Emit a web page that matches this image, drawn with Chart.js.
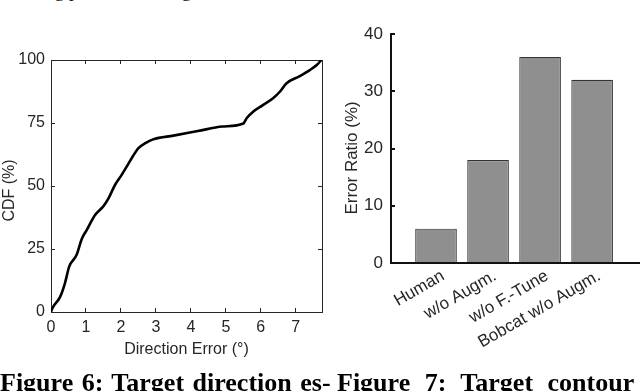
<!DOCTYPE html>
<html>
<head>
<meta charset="utf-8">
<script src="https://cdn.jsdelivr.net/npm/chart.js@4/dist/chart.umd.min.js"></script>
<style>
  html, body { margin: 0; padding: 0; background: #fff; }
  body { width: 640px; height: 391px; position: relative; overflow: hidden; }
  #cdfBox { position: absolute; left: 0; top: 40px; width: 335px; height: 330px; }
  #barBox { position: absolute; left: 330px; top: 0; width: 310px; height: 365px; }
  .topline { position: absolute; top: -20px; font: 19px "Liberation Serif", serif; white-space: pre; color: #111; }
  .cap { position: absolute; top: 370px; font: bold 26px/26px "Liberation Serif", serif; white-space: pre; color: #000; }
</style>
</head>
<body>
<div class="topline" style="left:40px">ing pose</div>
<div class="topline" style="left:150px">using</div>
<div id="cdfBox"><canvas id="cdfChart"></canvas></div>
<div id="barBox"><canvas id="barChart"></canvas></div>
<div class="cap" style="left:0; word-spacing:2px">Figure 6: Target direction es-</div>
<div class="cap" style="left:337px; word-spacing:8px">Figure 7: Target contour</div>
<script>
// Figure 6: CDF der retningsfejl
const errX = [0, 0.04, 0.26, 0.4, 0.52, 0.73, 0.88, 1.02, 1.26, 1.5, 1.64, 1.83, 2.02, 2.2, 2.35, 2.5, 2.7, 2.92, 3.5, 4.2, 4.9, 5.5, 5.6, 5.78, 6.05, 6.35, 6.55, 6.73, 7.1, 7.4, 7.6, 7.73];
const cdfPct = [0, 1.5, 6, 11.5, 18, 22.6, 29, 32.5, 38.5, 42, 45, 50.4, 54.4, 58.5, 62, 65, 67, 68.5, 70, 71.8, 73.6, 74.8, 77, 79.5, 82, 84.8, 87.5, 90.7, 93.5, 96, 98, 100];
const cdfTicks = [0, 25, 50, 75, 100];

// Figure 7: fejlrate pr. metode
const methods = ['Human', 'w/o Augm.', 'w/o F.-Tune', 'Bobcat w/o Augm.'];
const errorRatio = [6, 18, 36, 32];

const axisGray = '#262626';
const leftFont = { family: 'Liberation Sans, Arial, sans-serif', size: 16 };
const rightFont = { family: 'Liberation Sans, Arial, sans-serif', size: 17 };

new Chart(document.getElementById('cdfChart'), {
  type: 'line',
  data: {
    datasets: [{
      data: errX.map((x, i) => ({ x, y: cdfPct[i] })),
      borderColor: '#000',
      borderWidth: 2.6,
      pointRadius: 0,
      cubicInterpolationMode: 'monotone',
      fill: false
    }]
  },
  options: {
    responsive: true,
    maintainAspectRatio: false,
    animation: false,
    layout: { padding: { top: 20, right: 13, left: 0, bottom: 11 } },
    plugins: { legend: { display: false }, tooltip: { enabled: false } },
    scales: {
      x: {
        type: 'linear', min: 0, max: 7.75,
        ticks: { stepSize: 1, includeBounds: false, color: axisGray, font: leftFont, padding: 10 },
        grid: { drawOnChartArea: false, tickLength: -4, color: axisGray },
        border: { color: axisGray, width: 1 },
        title: { display: true, text: 'Direction Error (°)', color: axisGray, font: leftFont, padding: 0 },
        afterFit(s) { s.height = 47; }
      },
      x2: {
        type: 'linear', position: 'top', min: 0, max: 7.75,
        ticks: { display: false, stepSize: 1, includeBounds: false },
        grid: { drawOnChartArea: false, tickLength: -4, color: axisGray },
        border: { color: axisGray, width: 1 },
        afterFit(s) { s.height = 0; }
      },
      y: {
        min: 0, max: 100,
        afterBuildTicks(s) { s.ticks = cdfTicks.map(v => ({ value: v })); },
        ticks: { color: axisGray, font: leftFont, padding: 10 },
        grid: { drawOnChartArea: false, tickLength: -4, color: axisGray },
        border: { color: axisGray, width: 1 },
        title: { display: true, text: 'CDF (%)  ', color: axisGray, font: leftFont, padding: 0 },
        afterFit(s) { s.width = 51; }
      },
      y2: {
        position: 'right', min: 0, max: 100,
        afterBuildTicks(s) { s.ticks = cdfTicks.map(v => ({ value: v })); },
        ticks: { display: false },
        grid: { drawOnChartArea: false, tickLength: -4, color: axisGray },
        border: { color: axisGray, width: 1 },
        afterFit(s) { s.width = 0; }
      }
    }
  }
});

new Chart(document.getElementById('barChart'), {
  type: 'bar',
  data: {
    datasets: [{
      data: methods.map((m, i) => ({ x: i + 1, y: errorRatio[i] })),
      backgroundColor: '#8f8f8f',
      borderColor: '#333',
      borderWidth: 1.2,
      barPercentage: 0.8,
      categoryPercentage: 1
    }]
  },
  options: {
    responsive: true,
    maintainAspectRatio: false,
    animation: false,
    layout: { padding: { top: 34, right: 0, left: 0, bottom: 0 } },
    plugins: { legend: { display: false }, tooltip: { enabled: false } },
    scales: {
      x: {
        type: 'linear', min: 0.135, max: 4.92, offset: false,
        afterBuildTicks(s) { s.ticks = methods.map((m, i) => ({ value: i + 1 })); },
        ticks: {
          color: axisGray, font: rightFont, padding: 6, labelOffset: 7,
          minRotation: 30, maxRotation: 30, autoSkip: false,
          callback: (v) => methods[v - 1]
        },
        grid: { offset: false, drawOnChartArea: false, tickLength: -3, color: axisGray },
        border: { color: '#111', width: 2 },
        afterFit(s) { s.height = 102; }
      },
      y: {
        min: 0, max: 40,
        ticks: { stepSize: 10, color: axisGray, font: rightFont, padding: 12 },
        grid: { drawOnChartArea: false, tickLength: -4, color: '#111', lineWidth: 2 },
        border: { color: '#111', width: 2 },
        title: { display: true, text: 'Error Ratio (%)    ', color: axisGray, font: rightFont, padding: { top: 12, bottom: 0 } },
        afterFit(s) { s.width = 61; }
      }
    }
  }
});
</script>
</body>
</html>
